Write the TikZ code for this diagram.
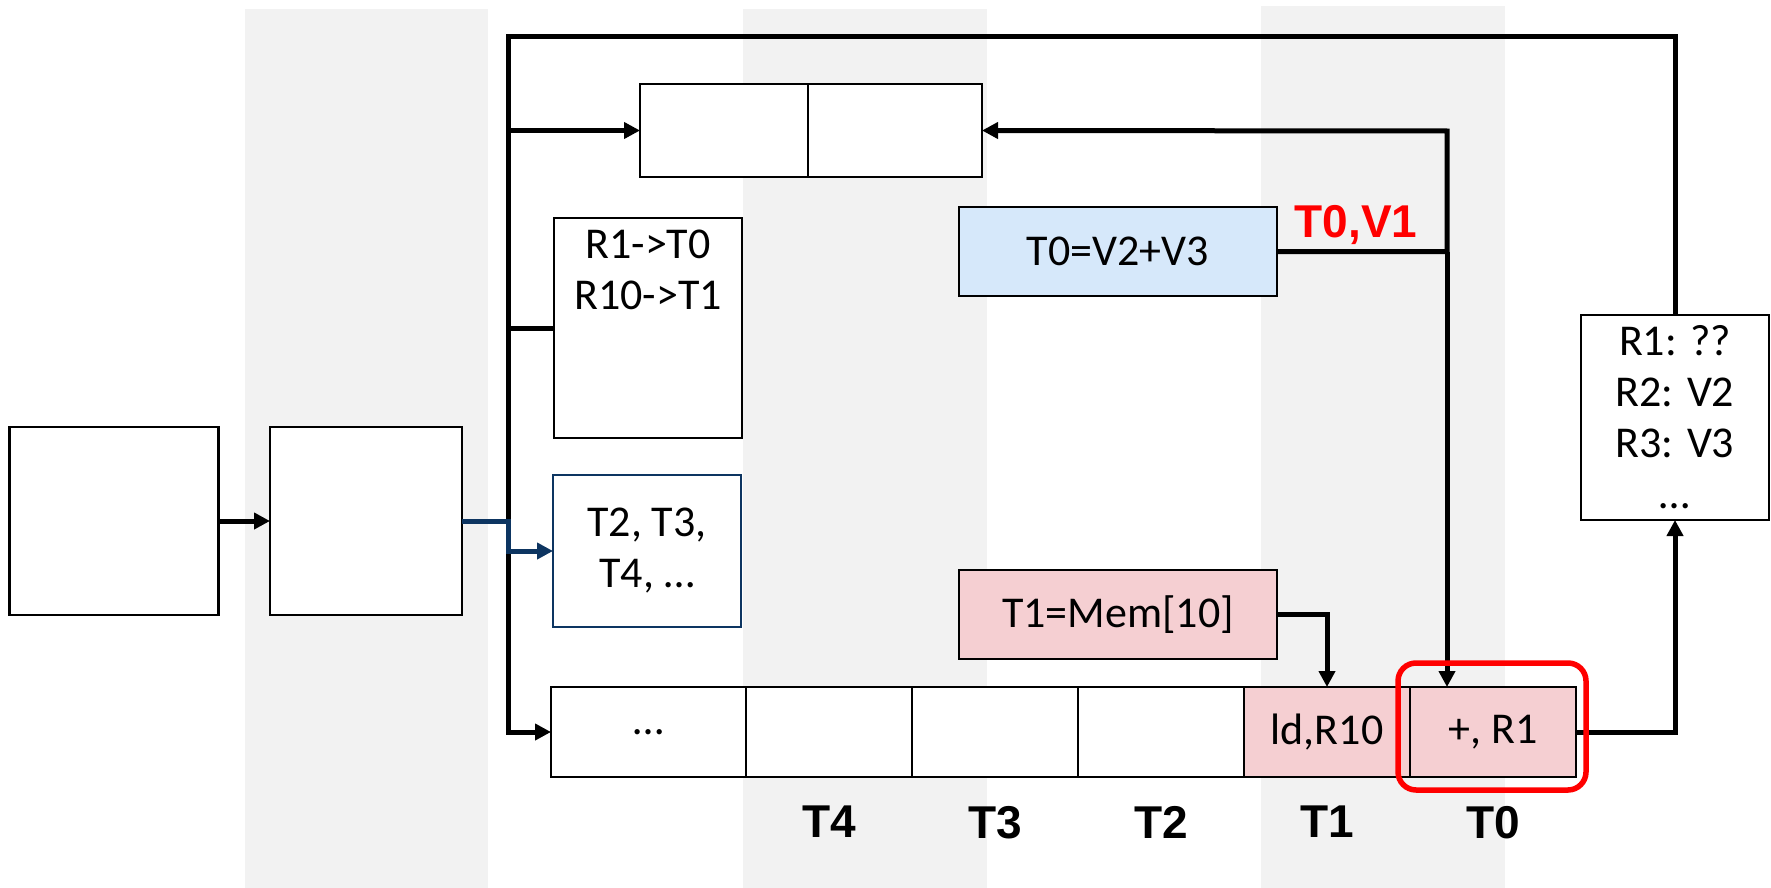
\documentclass[tikz,border=0pt]{standalone}
\usepackage{fontspec}
\setmainfont{Carlito}
\newfontfamily\tagfont{Liberation Sans}
\usetikzlibrary{positioning, arrows.meta, calc}

\definecolor{bandgray}{HTML}{F2F2F2}
\definecolor{opblue}{HTML}{D6E8FA}
\definecolor{oppink}{HTML}{F5CFD2}
\definecolor{navy}{HTML}{0D3561}

\begin{document}
\begin{tikzpicture}[
    x=1pt, y=-1pt,
    font=\fontsize{44}{51}\selectfont,
    >={Triangle[length=16pt,width=16pt]},
    box/.style={
        rectangle, draw=black, line width=2.2pt,
        fill=white, inner sep=0pt, outer sep=0pt,
        align=center
    },
    slot/.style={box, minimum width=166pt, minimum height=90pt},
    opbox/.style={box, minimum width=318pt, minimum height=89pt},
    tag/.style={font=\tagfont\bfseries\fontsize{46}{50}\selectfont, inner sep=0pt},
    arrow/.style={->, line width=5pt},
    link/.style={line width=5pt},
    hilite/.style={
        rectangle, rounded corners=18pt,
        draw=red, line width=5.5pt
    },
]
\useasboundingbox (0,0) rectangle (1771,888);

% ---------- Stage bands ----------
\fill[bandgray] (245,9) rectangle (488,888);
\fill[bandgray] (743,9) rectangle (987,888);
\fill[bandgray] (1261,6) rectangle (1505,888);

% ---------- Front end ----------
\node[box, minimum width=209pt, minimum height=188pt] (fetch) at (114,521) {};
\node[box, minimum width=192pt, minimum height=188pt] (decode) at (366,521) {};

% ---------- Top buffer ----------
\node[box, minimum width=168pt, minimum height=93pt] (robL) at (724,130.5) {};
\node[box, minimum width=174pt, minimum height=93pt, right=0pt of robL] (robR) {};

% ---------- Rename table and free list ----------
\node[box, minimum width=188pt, minimum height=220pt] (rat) at (648,328) {R1->T0\\R10->T1\\\strut\\\strut};
\node[box, draw=navy, line width=1.5pt, minimum width=188pt, minimum height=152pt] (free) at (647,551) {T2, T3,\\T4, …};

% ---------- Operations ----------
\node[opbox, fill=opblue] (addop) at (1118,251.5) {T0=V2+V3};
\node[opbox, fill=oppink] (ldop) at (1118,614.5) {T1=Mem[10]};

% ---------- Register file ----------
\node[box, minimum width=188pt, minimum height=205pt] (arf) at (1675,417.5) {R1: ??\\R2: V2\\R3: V3\\…};

% ---------- Queue slots ----------
\node[slot, minimum width=195pt] (q5) at (648.5,732) {…};
\node[slot, right=0pt of q5] (q4) {};
\node[slot, right=0pt of q4] (q3) {};
\node[slot, right=0pt of q3] (q2) {};
\node[slot, right=0pt of q2, fill=oppink] (q1) {ld,R10};
\node[slot, right=0pt of q1, fill=oppink] (q0) {+, R1};

\node[tag, below=29pt of q4] (t4) {T4};
\node[tag, below=29pt of q3] (t3) {T3};
\node[tag, below=29pt of q2] (t2) {T2};
\node[tag, below=29pt of q1] (t1) {T1};
\node[tag, below=29pt of q0] (t0) {T0};

% ---------- Bus corners ----------
\coordinate (bus) at (508,37);
\coordinate (cdb) at (1447,131);

% ---------- Arrows ----------
\draw[arrow] (fetch) -- (decode);
\draw[arrow] (arf.north) |- (bus) |- (q5.west);
\draw[arrow] (bus |- robL.west) -- (robL.west);
\draw[link] (bus |- rat.west) -- (rat.west);
\draw[arrow, navy] (decode.east) -- (decode.east -| bus) |- (free.west);

\draw[arrow] (addop.east) -| (cdb) -- (robR.east);
\draw[arrow] (addop.east -| cdb) -- (cdb |- q0.north);
\node[tag, text=red, anchor=base] (bcast) at (1356,237) {T0,V1};

\draw[arrow] (ldop.east) -| (q1.north);
\draw[arrow] (q0.east) -| (arf.south);

% highlight on the oldest slot
\node[hilite, minimum width=188pt, minimum height=127pt] (hl) at (1492,726.5) {};

\end{tikzpicture}
\end{document}
